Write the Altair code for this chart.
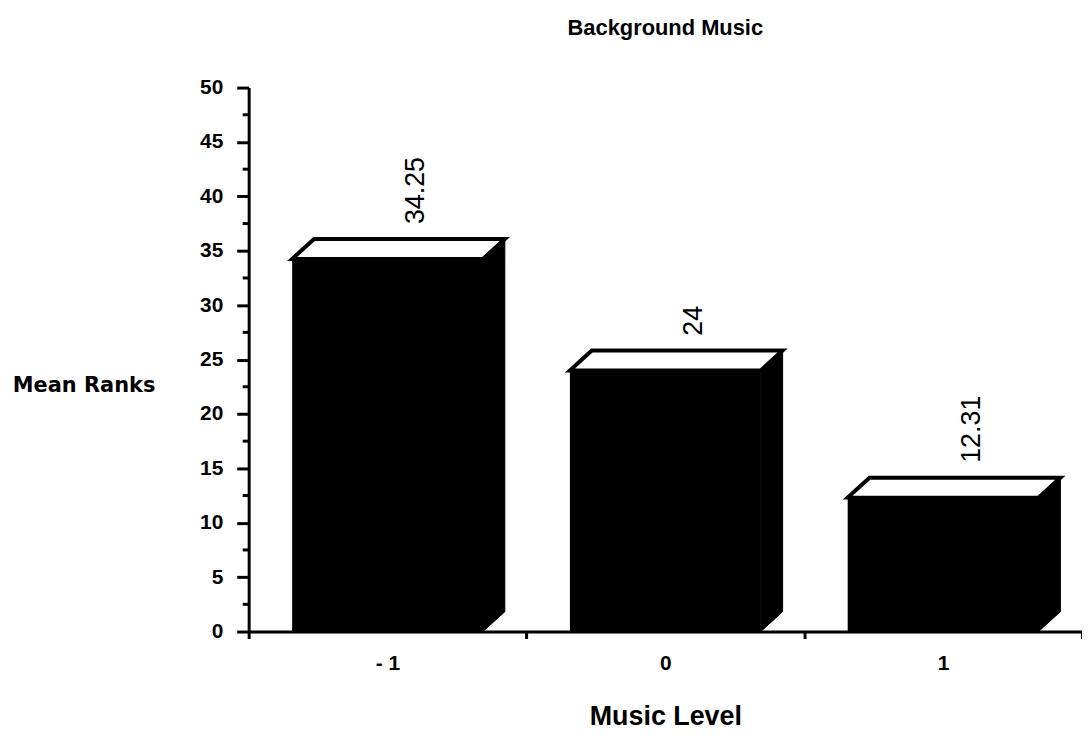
import altair as alt
import pandas as pd

# ---- data ----
categories = ["- 1", "0", "1"]
mean_ranks = [34.25, 24, 12.31]
value_labels = ["34.25", "24", "12.31"]
y_ticks = [0, 5, 10, 15, 20, 25, 30, 35, 40, 45, 50]
y_minor_ticks = [2.5, 7.5, 12.5, 17.5, 22.5, 27.5, 32.5, 37.5, 42.5, 47.5]

# ---- layout / style constants ----
FONT = "Liberation Sans"
WIDE_FONT = "DejaVu Sans"
W, H = 838, 547
Y_MAX = 50
BAND_FRACTION = 0.687            # front face width relative to the category band
DEPTH_X_PX, DEPTH_Y_PX = 22, 20  # 3-D depth offset of the bars, in pixels
LABEL_SHIFT_PX = 7               # value labels sit a little right of the top face centre

px_per_x = W / len(categories)
px_per_y = H / Y_MAX
ddx = DEPTH_X_PX / px_per_x
ddy = DEPTH_Y_PX / px_per_y
half = BAND_FRACTION / 2

front_df = pd.DataFrame({"cat": categories, "v": mean_ranks})

side_rows, top_rows, text_rows = [], [], []
for i, (c, v) in enumerate(zip(categories, mean_ranks)):
    xl = i + 0.5 - half
    xr = i + 0.5 + half
    # right side face (parallelogram)
    side_rows.append({"cat": c, "x": xr, "y0": 0, "y1": v})
    side_rows.append({"cat": c, "x": xr + ddx, "y0": ddy, "y1": v + ddy})
    # top face (parallelogram)
    top_rows.append({"cat": c, "x": xl, "y0": v, "y1": v})
    top_rows.append({"cat": c, "x": xl + ddx, "y0": v, "y1": v + ddy})
    top_rows.append({"cat": c, "x": xr, "y0": v, "y1": v + ddy})
    top_rows.append({"cat": c, "x": xr + ddx, "y0": v + ddy, "y1": v + ddy})
    text_rows.append({"cat": c,
                      "x": i + 0.5 + ddx + LABEL_SHIFT_PX / px_per_x,
                      "y": v + ddy,
                      "label": value_labels[i]})

side_df = pd.DataFrame(side_rows)
top_df = pd.DataFrame(top_rows)
text_df = pd.DataFrame(text_rows)
minor_df = pd.DataFrame({"t": y_minor_ticks})

y_scale = alt.Scale(domain=[0, Y_MAX], nice=False, zero=True)
xq_scale = alt.Scale(domain=[0, len(categories)], nice=False, zero=False)

front = alt.Chart(front_df).mark_bar(
    color="black", width={"band": BAND_FRACTION}
).encode(
    x=alt.X(
        "cat:N",
        sort=categories,
        scale=alt.Scale(paddingInner=0, paddingOuter=0),
        axis=alt.Axis(
            title="Music Level",
            labelAngle=0,
            tickBand="extent",
            tickSize=7,
            tickWidth=3,
            tickColor="black",
            domainWidth=3,
            domainColor="black",
            labelFont=FONT,
            labelFontSize=21,
            labelFontWeight="bold",
            labelColor="black",
            labelPadding=14,
            titleFont=FONT,
            titleFontSize=27,
            titleFontWeight="bold",
            titleColor="black",
            titleBaseline="alphabetic",
            titleY=93,
            grid=False,
        ),
    ),
    y=alt.Y(
        "v:Q",
        scale=y_scale,
        axis=alt.Axis(
            values=y_ticks,
            tickSize=12,
            tickWidth=3,
            tickColor="black",
            domainWidth=3,
            domainColor="black",
            grid=False,
            labelFont=FONT,
            labelFontSize=21,
            labelFontWeight="bold",
            labelColor="black",
            labelPadding=14,
            title="Mean Ranks",
            titleFont=WIDE_FONT,
            titleFontSize=21,
            titleFontWeight="bold",
            titleColor="black",
            titleAngle=0,
            titleAlign="center",
            titleBaseline="middle",
            titleX=-166,
            titleY=300,
        ),
    ),
)

side = alt.Chart(side_df).mark_area(
    color="black", stroke="black", strokeWidth=1, interpolate="linear"
).encode(
    x=alt.X("x:Q", scale=xq_scale, axis=None),
    y=alt.Y("y0:Q", scale=y_scale),
    y2="y1:Q",
    detail="cat:N",
)

top = alt.Chart(top_df).mark_area(
    fill="white", stroke="black", strokeWidth=4, strokeJoin="miter", interpolate="linear"
).encode(
    x=alt.X("x:Q", scale=xq_scale, axis=None),
    y=alt.Y("y0:Q", scale=y_scale),
    y2="y1:Q",
    detail="cat:N",
)

labels = alt.Chart(text_df).mark_text(
    angle=270, align="left", baseline="middle", dx=15,
    font=FONT, fontSize=27, color="black"
).encode(
    x=alt.X("x:Q", scale=xq_scale, axis=None),
    y=alt.Y("y:Q", scale=y_scale),
    text="label:N",
)

minor = alt.Chart(minor_df).mark_rule(color="black", strokeWidth=3).encode(
    y=alt.Y("t:Q", scale=y_scale),
    x=alt.value(-6),
    x2=alt.value(0),
)

chart = alt.layer(front, side, top, labels, minor).resolve_scale(
    x="independent"
).properties(
    width=W,
    height=H,
    title=alt.Title(
        "Background Music",
        font=FONT,
        fontSize=22,
        fontWeight="bold",
        color="black",
        anchor="middle",
        frame="group",
        baseline="alphabetic",
        offset=20,
    ),
    autosize=alt.AutoSizeParams(type="none"),
    padding={"left": 242, "top": 78, "right": 0, "bottom": 100},
    background="white",
).configure_view(stroke=None)

chart.save("out.html", embed_options={"renderer": "svg", "actions": False})
